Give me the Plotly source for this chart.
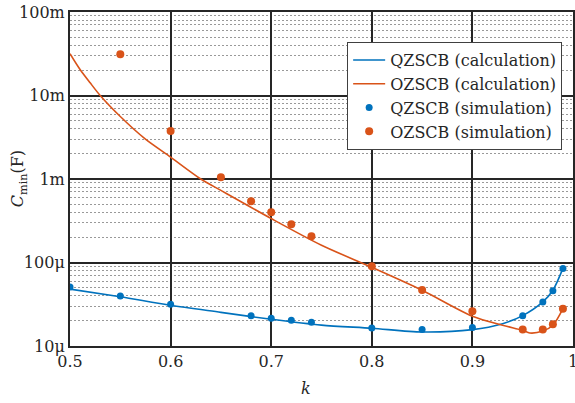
import plotly.graph_objects as go

# Calculated minimum capacitance curves, C_min (F) versus k
k_calc_qz = [0.50, 0.55, 0.60, 0.65, 0.70, 0.75, 0.80, 0.85, 0.90, 0.93, 0.95, 0.97, 0.98, 0.99]
c_calc_qz = [4.8e-5, 3.88e-5, 3.07e-5, 2.53e-5, 2.09e-5, 1.78e-5, 1.63e-5, 1.47e-5, 1.57e-5,
             1.85e-5, 2.31e-5, 3.37e-5, 4.65e-5, 8.5e-5]

k_calc_oz = [0.50, 0.51, 0.52, 0.53, 0.55, 0.575, 0.60, 0.63, 0.65, 0.70, 0.75, 0.80, 0.85,
             0.90, 0.93, 0.95, 0.957, 0.97, 0.98, 0.99]
c_calc_oz = [3.17e-2, 2.05e-2, 1.42e-2, 1.0e-2, 5.6e-3, 3.0e-3, 1.83e-3, 1.0e-3, 7.3e-4,
             3.36e-4, 1.61e-4, 8.75e-5, 4.65e-5, 2.27e-5, 1.77e-5, 1.54e-5, 1.43e-5, 1.51e-5,
             1.77e-5, 2.8e-5]

# Simulated points
k_sim_qz = [0.50, 0.55, 0.60, 0.68, 0.70, 0.72, 0.74, 0.80, 0.85, 0.90, 0.95, 0.97, 0.98, 0.99]
c_sim_qz = [5.09e-5, 3.97e-5, 3.16e-5, 2.31e-5, 2.15e-5, 2.03e-5, 1.92e-5, 1.64e-5, 1.58e-5,
            1.66e-5, 2.31e-5, 3.37e-5, 4.6e-5, 8.5e-5]

k_sim_oz = [0.55, 0.60, 0.65, 0.68, 0.70, 0.72, 0.74, 0.80, 0.85, 0.90, 0.95, 0.97, 0.98, 0.99]
c_sim_oz = [3.11e-2, 3.76e-3, 1.05e-3, 5.4e-4, 4.0e-4, 2.87e-4, 2.06e-4, 9.0e-5, 4.69e-5,
            2.6e-5, 1.58e-5, 1.58e-5, 1.82e-5, 2.8e-5]

# Axis ticks
x_ticks = [0.5, 0.6, 0.7, 0.8, 0.9, 1.0]
x_ticktext = ["0.5", "0.6", "0.7", "0.8", "0.9", "1"]
y_ticks = [1e-5, 1e-4, 1e-3, 1e-2, 1e-1]
y_ticktext = ["10μ", "100μ", "1m", "10m", "100m"]
y_minor = [m * 10.0 ** e for e in range(-5, -1) for m in range(2, 10)]

BLUE = "#0072BD"
ORANGE = "#D95319"
INK = "#262626"
FONT = "DejaVu Serif"

fig = go.Figure()
fig.add_trace(go.Scatter(x=k_calc_qz, y=c_calc_qz, mode="lines", name="QZSCB (calculation)",
                         line=dict(color=BLUE, width=1.6, shape="spline", smoothing=0.8)))
fig.add_trace(go.Scatter(x=k_calc_oz, y=c_calc_oz, mode="lines", name="OZSCB (calculation)",
                         line=dict(color=ORANGE, width=1.6, shape="spline", smoothing=0.8)))
fig.add_trace(go.Scatter(x=k_sim_qz, y=c_sim_qz, mode="markers", name="QZSCB (simulation)",
                         marker=dict(color=BLUE, size=7)))
fig.add_trace(go.Scatter(x=k_sim_oz, y=c_sim_oz, mode="markers", name="OZSCB (simulation)",
                         marker=dict(color=ORANGE, size=8)))

fig.update_layout(
    width=575, height=403,
    margin=dict(l=70, r=2, t=12, b=57, autoexpand=False),
    paper_bgcolor="white", plot_bgcolor="white",
    font=dict(family=FONT, size=16, color=INK),
    showlegend=True,
    legend=dict(x=0.551, y=0.91, xanchor="left", yanchor="top",
                bgcolor="white", bordercolor="#404040", borderwidth=1,
                font=dict(family=FONT, size=16, color=INK),
                tracegroupgap=0, itemwidth=32),
    xaxis=dict(range=[0.5, 1.0], tickmode="array", tickvals=x_ticks, ticktext=x_ticktext,
               showgrid=True, gridcolor=INK, gridwidth=1.5, automargin=False,
               ticklabeloverflow="allow",
               showline=True, linecolor=INK, linewidth=2, mirror=True,
               ticks="", zeroline=False,
               tickfont=dict(family=FONT, size=16, color=INK)),
    yaxis=dict(type="log", range=[-5, -1], tickmode="array", tickvals=y_ticks, ticktext=y_ticktext,
               showgrid=True, gridcolor=INK, gridwidth=2, automargin=False,
               showline=True, linecolor=INK, linewidth=2, mirror=True,
               ticks="", zeroline=False,
               tickfont=dict(family=FONT, size=16, color=INK),
               minor=dict(tickmode="array", tickvals=y_minor, showgrid=True,
                          gridcolor="#999999", gridwidth=1, griddash="2px,2px", ticks="")),
    annotations=[
        dict(text="<i>C</i><sub>min</sub>(F)", xref="paper", yref="paper",
             x=-0.103, y=0.5, xanchor="center", yanchor="middle", textangle=-90,
             showarrow=False, font=dict(family=FONT, size=16, color=INK)),
        dict(text="<i>k</i>", xref="paper", yref="paper",
             x=0.469, y=-0.127, xanchor="center", yanchor="middle",
             showarrow=False, font=dict(family=FONT, size=16, color=INK)),
    ],
)

fig.write_html("out.html")
